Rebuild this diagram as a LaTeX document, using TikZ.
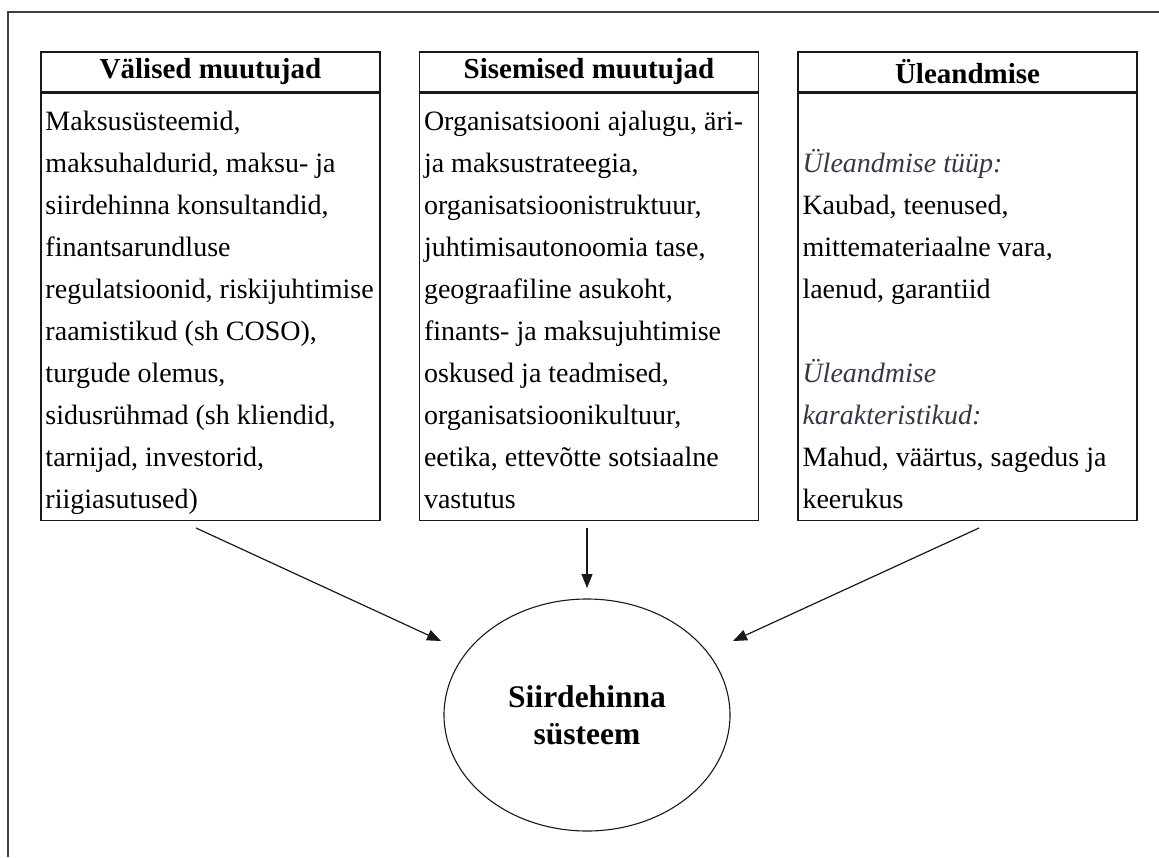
\documentclass[tikz,border=0pt]{standalone}
\usepackage{fontspec}
\setmainfont{Liberation Serif}
\usetikzlibrary{arrows.meta,shapes.geometric}
\definecolor{linecol}{RGB}{25,25,25}
\definecolor{itcol}{RGB}{55,55,70}
\newcommand{\bodyfont}{\fontsize{28}{42}\selectfont}
\newcommand{\firstline}{\rule{0pt}{37.5pt}}
\newcommand{\itl}[1]{{\color{itcol}\itshape #1}}
\newcommand{\bodytext}[1]{\begin{minipage}[t][427pt][t]{339pt}\bodyfont\raggedright\leftskip=4.5pt\relax\firstline #1\end{minipage}}
\begin{document}
\begin{tikzpicture}[x=1pt,y=-1pt,
  titlebox/.style={draw=linecol, line width=1.3pt, minimum width=339pt, minimum height=40pt, inner sep=0pt, font=\fontsize{29}{34}\selectfont\bfseries},
  bodybox/.style={draw=linecol, line width=1.3pt, inner sep=0pt, anchor=north},
  sysnode/.style={draw=linecol, line width=1.1pt, ellipse, minimum width=286pt, minimum height=232pt, inner sep=0pt, align=center, font=\fontsize{31.5}{37}\selectfont\bfseries},
  arr/.style={draw=linecol, line width=1.2pt, -{Triangle[length=14pt,width=11pt]}},
  outerframe/.style={draw=black!75, line width=2pt}]

\useasboundingbox (0,0) rectangle (1159,857);
\draw[outerframe] (8,857) -- (8,11.5) -- (1159,11.5);

\node[titlebox] (t1) at (210.5,72) {Välised muutujad};
\node[bodybox] (b1) at (t1.south) {\bodytext{Maksusüsteemid,\\
maksuhaldurid, maksu- ja\\
siirdehinna konsultandid,\\
finantsarundluse\\
regulatsioonid, riskijuhtimise\\
raamistikud (sh COSO),\\
turgude olemus,\\
sidusrühmad (sh kliendid,\\
tarnijad, investorid,\\
riigiasutused)}};

\node[titlebox] (t2) at (589,72) {Sisemised muutujad};
\node[bodybox] (b2) at (t2.south) {\bodytext{Organisatsiooni ajalugu, äri-\\
ja maksustrateegia,\\
organisatsioonistruktuur,\\
juhtimisautonoomia tase,\\
geograafiline asukoht,\\
finants- ja maksujuhtimise\\
oskused ja teadmised,\\
organisatsioonikultuur,\\
eetika, ettevõtte sotsiaalne\\
vastutus}};

\node[titlebox] (t3) at (967.5,72) {Üleandmise};
\node[bodybox] (b3) at (t3.south) {\bodytext{\\
\itl{Üleandmise tüüp:}\\
Kaubad, teenused,\\
mittemateriaalne vara,\\
laenud, garantiid\\
\mbox{}\\
\itl{Üleandmise}\\
\itl{karakteristikud:}\\
Mahud, väärtus, sagedus ja\\
keerukus}};

\node[sysnode] (sys) at (587,715) {Siirdehinna\\süsteem};

\coordinate (s1) at (196,528);
\coordinate (e1) at (441,641);
\coordinate (s2) at (587,528);
\coordinate (e2) at (587,588);
\coordinate (s3) at (979,528);
\coordinate (e3) at (733,641);

\draw[arr] (s1) -- (e1);
\draw[arr] (s2) -- (e2);
\draw[arr] (s3) -- (e3);
\end{tikzpicture}
\end{document}
